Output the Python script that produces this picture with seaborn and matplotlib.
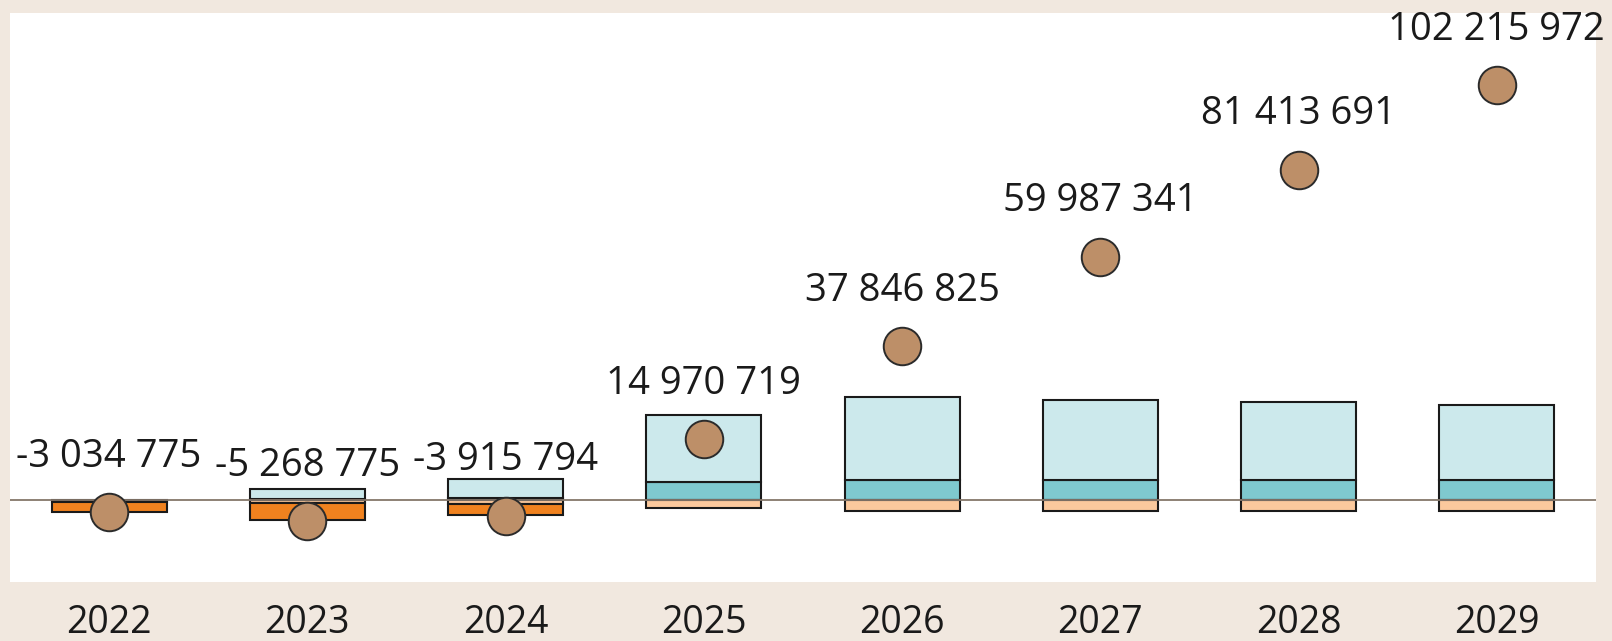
import matplotlib
matplotlib.use("Agg")
import matplotlib.pyplot as plt
import seaborn as sns
import numpy as np
import pandas as pd

# ---- data (millions) ----
years = ["2022", "2023", "2024", "2025", "2026", "2027", "2028", "2029"]
pos_light = [0.0, 2.3, 4.5, 16.487, 20.476, 19.741, 19.026, 18.402]   # light cyan (top positive)
pos_teal = [0.0, 0.3, 0.6, 4.4, 5.0, 5.0, 5.0, 5.0]                   # teal (bottom positive)
neg_light = [-0.5, -0.7, -0.9, -2.0, -2.6, -2.6, -2.6, -2.6]          # light orange (top negative)
neg_dark = [-2.535, -4.134, -2.85, 0.0, 0.0, 0.0, 0.0, 0.0]           # dark orange (bottom negative)
cumulative = [-3034775, -5268775, -3915794, 14970719, 37846825, 59987341, 81413691, 102215972]

M = 1e6
C_BG = "#f1e8df"
C_LIGHT = "#cce9ec"
C_TEAL = "#7fc9cf"
C_LORANGE = "#fbc99d"
C_DORANGE = "#f0821f"
C_DOT = "#bd8f68"
EDGE = "#1a1a1a"

sns.set_theme(style="white")
plt.rcParams["font.family"] = ["Open Sans", "DejaVu Sans"]

fig = plt.figure(figsize=(16.12, 6.41), dpi=100, facecolor=C_BG)
ax = fig.add_axes([10 / 1612, 59 / 641, 1586 / 1612, 569.5 / 641])
ax.set_facecolor("white")

df = pd.DataFrame({
    "year": years,
    "teal": np.array(pos_teal) * M,
    "light": np.array(pos_light) * M,
    "lor": np.array(neg_light) * M,
    "dor": np.array(neg_dark) * M,
    "cum": cumulative,
})

bw = 0.58
common = dict(width=bw, edgecolor=EDGE, linewidth=1.5, ax=ax, order=years, zorder=2)
sns.barplot(data=df, x="year", y="teal", color=C_TEAL, saturation=1, **common)
sns.barplot(data=df, x="year", y="light", bottom=df["teal"].values, color=C_LIGHT, saturation=1, **common)
sns.barplot(data=df, x="year", y="lor", color=C_LORANGE, saturation=1, **common)
sns.barplot(data=df, x="year", y="dor", bottom=df["lor"].values, color=C_DORANGE, saturation=1, **common)

# hide zero-height bars
for p in ax.patches:
    if abs(p.get_height()) < 1:
        p.set_visible(False)

ax.axhline(0, color="#85776a", lw=1.3, zorder=3)

sns.scatterplot(data=df, x="year", y="cum", s=730, color=C_DOT, edgecolor="#2b2b2b",
                linewidth=1.4, zorder=5, ax=ax, legend=False)

for i, v in enumerate(cumulative):
    ax.annotate(f"{v:,}".replace(",", " "), (i, v), xytext=(0, 40), textcoords="offset points",
                ha="center", va="center", fontsize=27.5, color="#1a1a1a",
                annotation_clip=False, zorder=6)

ax.set_xlim(-0.5, 7.5)
ax.set_ylim(-20.2 * M, 120.1 * M)
ax.set_xlabel("")
ax.set_ylabel("")
ax.set_yticks([])
ax.tick_params(axis="x", length=0, pad=16, labelsize=27, labelcolor="#1a1a1a")
for s in ax.spines.values():
    s.set_visible(False)

fig.savefig("out.png", dpi=100, facecolor=C_BG)
